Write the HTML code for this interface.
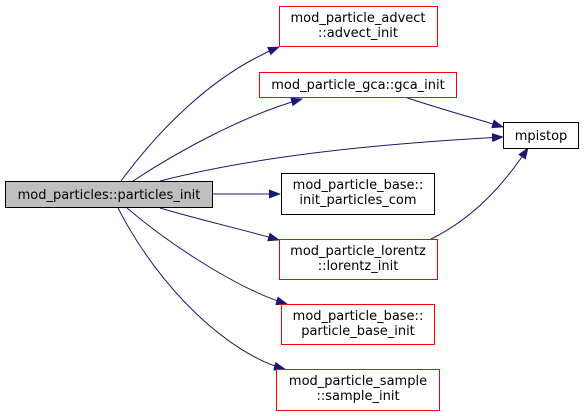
<!DOCTYPE html>
<html><head><meta charset="utf-8"><style>
html,body{margin:0;padding:0;background:#fff;width:584px;height:416px;overflow:hidden}
svg text{font-family:"DejaVu Sans","Liberation Sans",sans-serif;font-size:13px;fill:#000;text-anchor:middle}
</style></head><body>
<svg width="584" height="416" viewBox="0 0 584 416" xmlns="http://www.w3.org/2000/svg">
<defs><marker id="a" markerWidth="12" markerHeight="9" refX="11" refY="4.5" orient="auto" markerUnits="userSpaceOnUse"><path d="M0,0 L12,4.5 L0,9 Z" fill="#191970"/></marker></defs>
<g fill="none" stroke="#191970" stroke-width="1" marker-end="url(#a)">
<path d="M121,181 C155,135 210,75 279,47"/>
<path d="M133,181 C180,150 245,115 302,99"/>
<path d="M160,181 C260,155 390,143 503,137"/>
<path d="M212,194 L280,194"/>
<path d="M160,208 C200,220 245,230 279,240"/>
<path d="M127,208 C170,245 240,290 287,304"/>
<path d="M118,208 C160,290 230,355 285,369"/>
<path d="M405,97 C430,106 470,117 503,127"/>
<path d="M431,239 C480,215 510,175 528,148"/>
</g>
<g stroke-width="1">
<rect x="5.5" y="181.5" width="207" height="26" fill="#bfbfbf" stroke="#000"/>
<rect x="279.5" y="6.5" width="158" height="40" fill="#fff" stroke="#ff0000"/>
<rect x="259.5" y="72.5" width="197" height="25" fill="#fff" stroke="#ff0000"/>
<rect x="503.5" y="122.5" width="75" height="26" fill="#fff" stroke="#000"/>
<rect x="281.5" y="173.5" width="153" height="41" fill="#fff" stroke="#000"/>
<rect x="279.5" y="239.5" width="158" height="40" fill="#fff" stroke="#ff0000"/>
<rect x="281.5" y="304.5" width="153" height="40" fill="#fff" stroke="#ff0000"/>
<rect x="276.5" y="369.5" width="163" height="41" fill="#fff" stroke="#ff0000"/>
</g>
<text x="109" y="199">mod_particles::particles_init</text>
<text x="358" y="22">mod_particle_advect</text>
<text x="358" y="37">::advect_init</text>
<text x="358" y="89">mod_particle_gca::gca_init</text>
<text x="541" y="140">mpistop</text>
<text x="358" y="189">mod_particle_base::</text>
<text x="358" y="204">init_particles_com</text>
<text x="358" y="255">mod_particle_lorentz</text>
<text x="358" y="270">::lorentz_init</text>
<text x="358" y="320">mod_particle_base::</text>
<text x="358" y="335">particle_base_init</text>
<text x="358" y="385">mod_particle_sample</text>
<text x="358" y="400">::sample_init</text>
</svg>
</body></html>
